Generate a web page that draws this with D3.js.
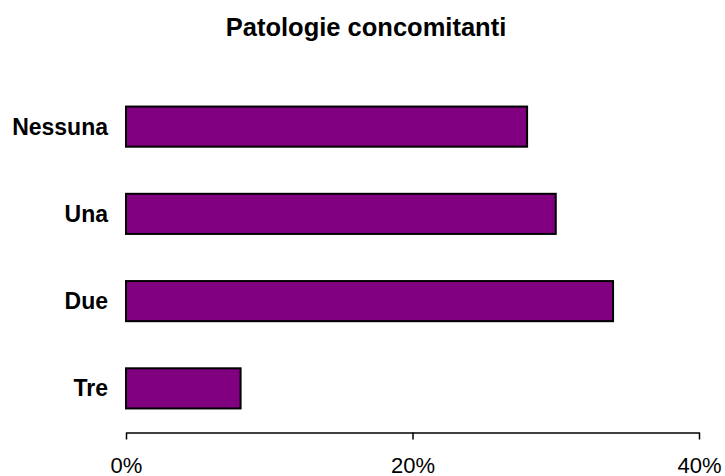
<!DOCTYPE html>
<html>
<head>
<meta charset="utf-8">
<script src="https://cdn.jsdelivr.net/npm/d3@7"></script>
<style>
  body { margin: 0; background: #fff; }
  text { font-family: Arial, "Liberation Sans", sans-serif; }
</style>
</head>
<body>
<div id="chart"></div>
<script>
// Data
var categories = ['Nessuna', 'Una', 'Due', 'Tre'];
var values = [28, 30, 34, 8];
var tickValues = [0, 20, 40];
var title = 'Patologie concomitanti';

var attrs = {
  svgWidth: 725,
  svgHeight: 476,
  marginTop: 83,
  marginLeft: 126,
  plotRight: 699,
  plotBottom: 432,
  barColor: '#800080'
};

var data = categories.map(function (c, i) { return { cat: c, value: values[i] }; });

//Scales
var x = d3.scaleLinear().domain([0, 40]).range([attrs.marginLeft, attrs.plotRight]);
var y = d3.scaleBand().domain(categories)
  .range([attrs.marginTop, attrs.plotBottom])
  .paddingInner(0.54).paddingOuter(0.27);

var svg = d3.select('#chart').append('svg')
  .attr('width', attrs.svgWidth)
  .attr('height', attrs.svgHeight);

//title
svg.append('text')
  .attr('x', 366)
  .attr('y', 36)
  .attr('text-anchor', 'middle')
  .attr('font-weight', 'bold')
  .attr('font-size', 25.5)
  .text(title);

//bars
svg.selectAll('rect.bar')
  .data(data)
  .enter().append('rect')
  .attr('class', 'bar')
  .attr('x', x(0))
  .attr('y', function (d) { return y(d.cat); })
  .attr('width', function (d) { return x(d.value) - x(0); })
  .attr('height', y.bandwidth())
  .attr('fill', attrs.barColor)
  .attr('stroke', '#000')
  .attr('stroke-width', 2);

//category labels
svg.selectAll('text.cat')
  .data(data)
  .enter().append('text')
  .attr('class', 'cat')
  .attr('x', 108)
  .attr('y', function (d) { return y(d.cat) + y.bandwidth() / 2; })
  .attr('dy', '0.35em')
  .attr('text-anchor', 'end')
  .attr('font-weight', 'bold')
  .attr('font-size', 23)
  .text(function (d) { return d.cat; });

//x axis
var axis = svg.append('g')
  .attr('transform', 'translate(0,' + 432.5 + ')')
  .call(d3.axisBottom(x).tickValues(tickValues).tickSize(7).tickSizeOuter(0)
    .tickFormat(function (d) { return d + '%'; }));
axis.select('.domain').attr('stroke', '#000').attr('stroke-width', 1.5);
axis.selectAll('.tick line').attr('stroke', '#000').attr('stroke-width', 1.5);
axis.selectAll('.tick text')
  .attr('y', 40)
  .attr('dy', 0)
  .attr('fill', '#000')
  .attr('font-size', 22)
  .attr('font-family', 'Arial, "Liberation Sans", sans-serif');
</script>
</body>
</html>
